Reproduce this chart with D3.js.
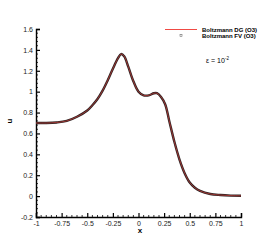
<!DOCTYPE html>
<html>
<head>
<meta charset="utf-8">
<script src="https://cdn.jsdelivr.net/npm/d3@7"></script>
<style>
  body { margin: 0; background: #fff; }
  svg { display: block; font-family: "Liberation Sans", Arial, sans-serif; }
</style>
</head>
<body>
<svg id="chart" width="274" height="244"></svg>
<script>
// values
var xs = [-1, -0.9, -0.8, -0.7, -0.6, -0.5, -0.45, -0.4, -0.35, -0.3, -0.25, -0.2, -0.17, -0.14, -0.1,
          -0.05, 0, 0.05, 0.1, 0.15, 0.18, 0.22, 0.26, 0.3, 0.35, 0.4, 0.45, 0.5, 0.55, 0.6, 0.7, 0.8, 0.9, 1.0];
var u_fv = [0.70, 0.70, 0.705, 0.72, 0.76, 0.82, 0.87, 0.93, 1.01, 1.11, 1.22, 1.32, 1.36, 1.34, 1.24,
            1.10, 1.00, 0.965, 0.965, 0.985, 0.985, 0.95, 0.88, 0.72, 0.52, 0.35, 0.22, 0.13, 0.08, 0.05, 0.02, 0.01, 0.005, 0.003];
var u_dg = u_fv.slice();
var x_ticks = [-1, -0.75, -0.5, -0.25, 0, 0.25, 0.5, 0.75, 1];
var y_ticks = [-0.2, 0, 0.2, 0.4, 0.6, 0.8, 1, 1.2, 1.4, 1.6];
var series_names = ["Boltzmann DG (O3)", "Boltzmann FV (O3)"];

var svg = d3.select("#chart");
var x = d3.scaleLinear().domain([-1, 1]).range([36, 241]);
var y = d3.scaleLinear().domain([-0.2, 1.6]).range([217, 29]);

// minor ticks
var x_minor = d3.range(-1, 1.0001, 0.05).filter(v => !x_ticks.some(t => Math.abs(t - v) < 1e-6));
var y_minor = d3.range(-0.2, 1.6001, 0.04).filter(v => !y_ticks.some(t => Math.abs(t - v) < 1e-6));

svg.append("g").selectAll("line").data(x_minor).enter().append("line")
    .attr("x1", d => x(d)).attr("x2", d => x(d))
    .attr("y1", 217).attr("y2", 215)
    .attr("stroke", "#000").attr("stroke-width", 0.8);
svg.append("g").selectAll("line").data(y_minor).enter().append("line")
    .attr("x1", 36).attr("x2", 38)
    .attr("y1", d => y(d)).attr("y2", d => y(d))
    .attr("stroke", "#000").attr("stroke-width", 0.8);

var fmt = d => String(d);

var xAxis = svg.append("g").attr("transform", "translate(0,217)")
    .call(d3.axisBottom(x).tickValues(x_ticks).tickSize(-4).tickPadding(4).tickFormat(fmt));
var yAxis = svg.append("g").attr("transform", "translate(36,0)")
    .call(d3.axisLeft(y).tickValues(y_ticks).tickSize(-4).tickPadding(3).tickFormat(fmt));

[xAxis, yAxis].forEach(function(a){
  a.select(".domain").attr("stroke", "#000").attr("stroke-width", 1.4);
  a.selectAll(".tick line").attr("stroke", "#000").attr("stroke-width", 1.2);
  a.selectAll(".tick text").attr("font-size", 7).attr("fill", "#222")
    .attr("font-family", "Liberation Sans, Arial, sans-serif");
});

// data
var pts_fv = xs.map((d, i) => [d, u_fv[i]]);
var pts_dg = xs.map((d, i) => [d, u_dg[i]]);
var line = d3.line().x(d => x(d[0])).y(d => y(d[1])).curve(d3.curveCatmullRom.alpha(0.5));

svg.append("path").datum(pts_fv).attr("d", line)
    .attr("fill", "none").attr("stroke", "#2e2424").attr("stroke-width", 2.4);
svg.append("path").datum(pts_dg).attr("d", line)
    .attr("fill", "none").attr("stroke", "#e8403a").attr("stroke-width", 0.6);

// axis labels
svg.append("text").attr("x", 140).attr("y", 233).attr("text-anchor", "middle")
    .attr("font-size", 8).attr("font-weight", "bold").text("x");
svg.append("text").attr("transform", "translate(12,121) rotate(-90)").attr("text-anchor", "middle")
    .attr("font-size", 8).attr("font-weight", "bold").text("u");

// legend
var leg = svg.append("g");
leg.append("line").attr("x1", 165).attr("x2", 197).attr("y1", 29.5).attr("y2", 29.5)
    .attr("stroke", "#f04a44").attr("stroke-width", 1);
leg.append("rect").attr("x", 180).attr("y", 34.5).attr("width", 2).attr("height", 2)
    .attr("fill", "none").attr("stroke", "#555").attr("stroke-width", 0.5);
leg.selectAll("text").data(series_names).enter().append("text")
    .attr("x", 202).attr("y", (d, i) => 31.8 + i * 6.5)
    .attr("font-size", 6).attr("font-weight", "bold").text(d => d);

// epsilon annotation
var eps = svg.append("text").attr("x", 206).attr("y", 63).attr("font-size", 7);
eps.append("tspan").text("\u03b5 = 10");
eps.append("tspan").attr("dy", -3).attr("font-size", 4.5).text("-2");
</script>
</body>
</html>
